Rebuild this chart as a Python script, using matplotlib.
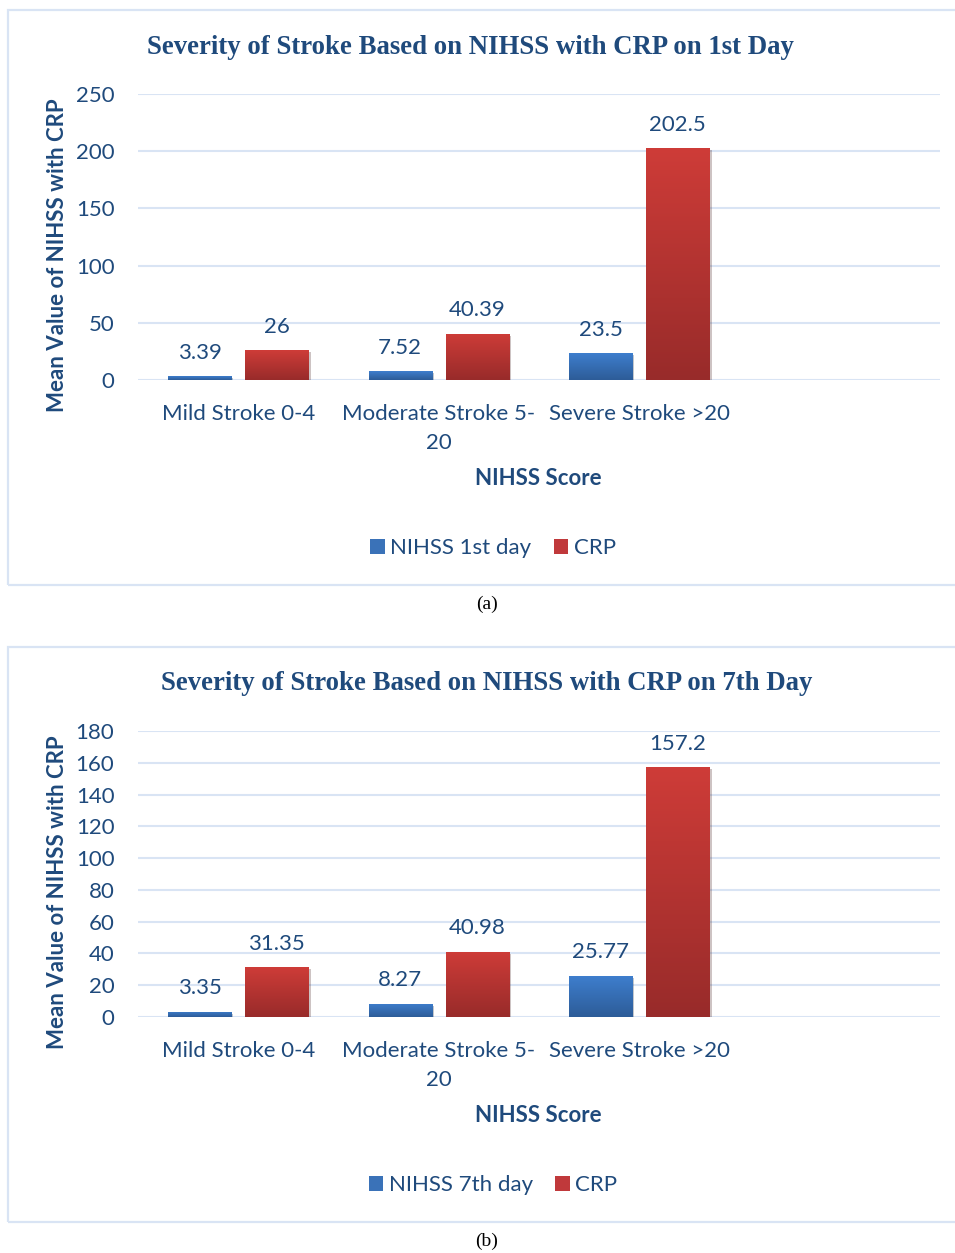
import numpy as np
import matplotlib.pyplot as plt
from matplotlib.patches import Rectangle, Patch
from matplotlib.colors import LinearSegmentedColormap
import matplotlib.patheffects as pe

# categories on the x axis (last slot is left empty)
categories = ['Mild Stroke 0-4', 'Moderate Stroke 5-\n20', 'Severe Stroke >20', '']

# day 1 means
nihss_day1 = [3.39, 7.52, 23.5]
crp_day1 = [26, 40.39, 202.5]

# day 7 means
nihss_day7 = [3.35, 8.27, 25.77]
crp_day7 = [31.35, 40.98, 157.2]

TEXT = '#1f4a7c'
GRID = '#d9e4f4'
SANS = ['Lato', 'DejaVu Sans']
SERIF = ['Liberation Serif', 'DejaVu Serif']
FS = 16

blue_cmap = LinearSegmentedColormap.from_list('b', ['#2d5c98', '#3e7ecd'])
red_cmap = LinearSegmentedColormap.from_list('r', ['#982b2a', '#ce3c38'])

W, H = 955, 1253
fig = plt.figure(figsize=(W / 100, H / 100), dpi=100)


def fx(px):
    return px / W


def fy(py):
    return 1 - py / H


def gradient_bars(ax, bars, cmap):
    grad = np.linspace(0, 1, 256).reshape(-1, 1)
    for b in bars:
        x0, y0 = b.get_x(), b.get_y()
        w, h = b.get_width(), b.get_height()
        im = ax.imshow(grad, cmap=cmap, origin='lower', aspect='auto',
                       extent=(x0, x0 + w, y0, y0 + h), zorder=3)
        im.set_clip_path(b)


def panel(top, nihss, crp, ymax, ystep, title, title_x, series_name, caption):
    # outer frame of the chart area
    box_top, box_bot = top, top + 575
    fig.patches.append(Rectangle((fx(8), fy(box_bot)), 1.2, fy(box_top) - fy(box_bot),
                                 transform=fig.transFigure, fill=False,
                                 edgecolor=GRID, linewidth=1.6))

    ax_top, ax_bot = top + 84, top + 370
    ax = fig.add_axes([fx(138), fy(ax_bot), fx(940) - fx(138), fy(ax_top) - fy(ax_bot)])
    x = np.arange(len(categories))
    width, off = 0.315, 0.1925
    shadow = [pe.SimplePatchShadow(offset=(1.5, -1.5), alpha=0.25), pe.Normal()]
    b1 = ax.bar(x[:len(nihss)] - off, nihss, width, color='#3a72b8', zorder=3,
                path_effects=shadow)
    b2 = ax.bar(x[:len(crp)] + off, crp, width, color='#c0393b', zorder=3,
                path_effects=shadow)
    gradient_bars(ax, b1, blue_cmap)
    gradient_bars(ax, b2, red_cmap)

    for bars, vals in ((b1, nihss), (b2, crp)):
        for b, v in zip(bars, vals):
            ax.annotate(f'{v:g}', (b.get_x() + b.get_width() / 2, v),
                        xytext=(0, 17), textcoords='offset points',
                        ha='center', va='center', fontsize=FS, color=TEXT,
                        family=SANS)

    ax.set_xlim(-0.5, len(categories) - 0.5)
    ax.set_ylim(0, ymax)
    ax.set_yticks(np.arange(0, ymax + 1, ystep))
    ax.set_xticks(x)
    ax.set_xticklabels(categories, fontsize=FS, color=TEXT, family=SANS,
                       linespacing=1.6, va='top')
    for lab in ax.get_yticklabels():
        lab.set_fontsize(FS)
        lab.set_color(TEXT)
        lab.set_family(SANS)
    ax.tick_params(length=0)
    ax.tick_params(axis='y', pad=17)
    ax.tick_params(axis='x', pad=17)
    ax.grid(axis='y', color=GRID, linewidth=1.5, zorder=0)
    ax.set_axisbelow(True)
    for s in ax.spines.values():
        s.set_visible(False)
    ax.set_facecolor('none')

    fig.text(fx(title_x), fy(top + 37), title, ha='center', va='center',
             fontsize=19.3, fontweight='bold', color=TEXT, family=SERIF)
    fig.text(fx(58), fy((ax_top + ax_bot) / 2 + 18), 'Mean Value of NIHSS with CRP',
             rotation=90, ha='center', va='center', fontsize=FS,
             fontweight='bold', color=TEXT, family=SANS)
    fig.text(fx(538), fy(top + 468), 'NIHSS Score', ha='center', va='center',
             fontsize=FS, fontweight='bold', color=TEXT, family=SANS)

    handles = [Patch(facecolor='#3a72b8'), Patch(facecolor='#c0393b')]
    fig.legend(handles, [series_name, 'CRP'], loc='center',
               bbox_to_anchor=(fx(493), fy(top + 538)), ncol=2, frameon=False,
               prop={'family': SANS, 'size': FS}, labelcolor=TEXT,
               handlelength=0.65, handleheight=0.65, handletextpad=0.25,
               columnspacing=1.0)

    fig.text(fx(487), fy(top + 594), caption, ha='center', va='center',
             fontsize=14, color='black', family=SERIF)


panel(10, nihss_day1, crp_day1, 250, 50,
      'Severity of Stroke Based on NIHSS with CRP on 1st Day', 470,
      'NIHSS 1st day', '(a)')
panel(647, nihss_day7, crp_day7, 180, 20,
      'Severity of Stroke Based on NIHSS with CRP on 7th Day', 487,
      'NIHSS 7th day', '(b)')

fig.savefig('out.png', dpi=100)
